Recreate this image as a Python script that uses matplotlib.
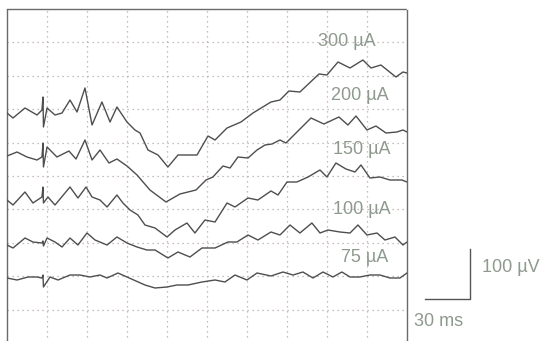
import numpy as np
import matplotlib
matplotlib.use("Agg")
import matplotlib.pyplot as plt

# time (ms) and displayed voltage (uV) of each trace
t300 = [0, 4, 12, 20, 23.3, 24, 24.3, 26.7, 32, 36.7, 42, 46.7, 52, 56.7, 63.3, 68.7,
        73.3, 80, 85.3, 88.7, 94, 100.7, 107.3, 114, 126.7, 134, 138.7, 146.7, 156, 164,
        176, 182, 188, 195.3, 208, 213.3, 220.7, 228.7, 237.3, 242.7, 249.3, 259.3, 264, 266.7]
v300 = [460, 450, 470, 456, 466, 492, 432, 470, 456, 460, 486, 462, 510, 436, 482, 442,
        472, 442, 426, 420, 386, 376, 352, 376, 376, 414, 406, 430, 442, 460,
        482, 486, 504, 502, 538, 536, 562, 550, 566, 550, 556, 532, 542, 540]

t200 = [0, 6.7, 13.3, 20, 23.3, 24, 24.3, 26.7, 33.3, 41.3, 46, 52, 56.7, 62, 68, 73.3,
        80, 86.7, 95.3, 106, 115.3, 126, 132.7, 137.3, 144, 148.7, 154, 160.7, 166.7, 172,
        176.7, 182, 186, 194, 202.7, 211.3, 221.3, 227.3, 232.7, 240, 246, 252.7, 260, 264, 266.7]
v200 = [374, 382, 372, 366, 372, 400, 352, 392, 372, 384, 368, 406, 366, 386, 360, 368,
        354, 336, 306, 282, 298, 306, 326, 332, 354, 350, 372, 370, 386, 396,
        398, 406, 400, 424, 450, 438, 452, 436, 454, 426, 434, 420, 422, 426, 422]

t150 = [0, 4, 12, 17.3, 23.3, 24, 24.3, 27.3, 32, 42, 47.3, 52.7, 56.7, 62, 66.7, 73.3,
        77.3, 82, 87.3, 92, 98.7, 106.7, 112, 120, 125.3, 132, 138.7, 146.7, 152, 160.7,
        167.3, 176, 180.7, 186.7, 193.3, 200.7, 208.7, 213.3, 219.3, 226, 232, 236, 242,
        248.7, 255.3, 263.3, 266.7]
v150 = [286, 276, 302, 280, 292, 312, 280, 292, 276, 312, 290, 312, 292, 286, 272, 296,
        280, 266, 256, 236, 230, 212, 226, 240, 220, 246, 242, 280, 272, 290,
        286, 304, 296, 322, 322, 332, 346, 332, 360, 348, 342, 356, 330,
        332, 326, 326, 322]

t100 = [0, 4, 12, 17.3, 23.3, 24, 24.3, 26.7, 32, 36.7, 42, 47.3, 53.3, 58.7, 66.7, 73.3,
        80, 86.7, 93.3, 98.7, 107.3, 114, 122, 130, 138.7, 147.3, 153.3, 160.7, 167.3, 176,
        182, 188.7, 195.3, 203.3, 208.7, 214, 222, 228.7, 234, 240, 246.7, 252, 258.7, 264, 266.7]
v100 = [196, 190, 210, 202, 200, 204, 194, 210, 202, 192, 210, 196, 220, 206, 196, 212,
        200, 192, 186, 186, 170, 182, 172, 190, 190, 202, 202, 216, 206, 222,
        216, 236, 220, 240, 220, 226, 222, 220, 236, 216, 220, 206, 212, 196, 202]

t75 = [0, 6.7, 14, 20, 23.3, 24, 24.3, 28.7, 34, 42, 48.7, 55.3, 62, 66.7, 74, 80,
       86, 92, 98.7, 106.7, 113.3, 120.7, 130, 138.7, 145.3, 152, 160, 166.7, 176, 184,
       190.7, 197.3, 204, 210.7, 217.3, 223.3, 228.7, 235.3, 242, 248.7, 255.3, 262, 266.7]
v75 = [130, 126, 132, 132, 130, 136, 112, 132, 126, 136, 136, 132, 136, 130, 140, 132,
       124, 116, 110, 112, 116, 116, 122, 126, 122, 136, 126, 140, 134, 142,
       136, 142, 130, 142, 132, 142, 132, 132, 136, 136, 130, 130, 140]

traces = [(t300, v300), (t200, v200), (t150, v150), (t100, v100), (t75, v75)]
labels = ["300 µA", "200 µA", "150 µA", "100 µA", "75 µA"]
label_pos = [(226.7, 604), (235.3, 494), (236.7, 386), (236.7, 266), (238.7, 170)]

x_max = 266.7
y_max = 668

fig = plt.figure(figsize=(5.44, 3.41), dpi=100)
ax = fig.add_axes([7 / 544, -2 / 341, 400 / 544, 334 / 341])
ax.set_xlim(0, x_max)
ax.set_ylim(0, y_max)

for xg in np.linspace(0, x_max, 11)[1:-1]:
    ax.axvline(xg, color="#b5a8a8", lw=0.9, ls=(0, (1, 3)), zorder=1)
for yg in np.linspace(0, y_max, 11)[1:-1]:
    ax.axhline(yg, color="#b5a8a8", lw=0.9, ls=(0, (1, 3)), zorder=1)

for sp in ax.spines.values():
    sp.set_linestyle((0, (1, 1)))
    sp.set_color("#6a6a6a")
    sp.set_linewidth(1.0)
ax.set_xticks([])
ax.set_yticks([])

for t, v in traces:
    ax.plot(t, v, color="#4e4e4e", lw=1.0, zorder=3, solid_joinstyle="round")

lab_col = "#8d9a8d"
for lab, (lx, ly) in zip(labels, label_pos):
    ax.text(lx, ly, lab, color=lab_col, fontsize=13, family="Liberation Sans",
            ha="center", va="center", zorder=4)

# scale bar: 30 ms x 100 uV
bx, by = 308.7, 88
ax.plot([bx - 30, bx, bx], [by, by, by + 100], color="#555555", lw=1.0,
        clip_on=False)
ax.text(336, 150, "100 µV", color=lab_col, fontsize=13, family="Liberation Sans",
        ha="center", va="center", clip_on=False)
ax.text(288, 42, "30 ms", color=lab_col, fontsize=13, family="Liberation Sans",
        ha="center", va="center", clip_on=False)

fig.savefig("out.png", dpi=100, facecolor="white")
